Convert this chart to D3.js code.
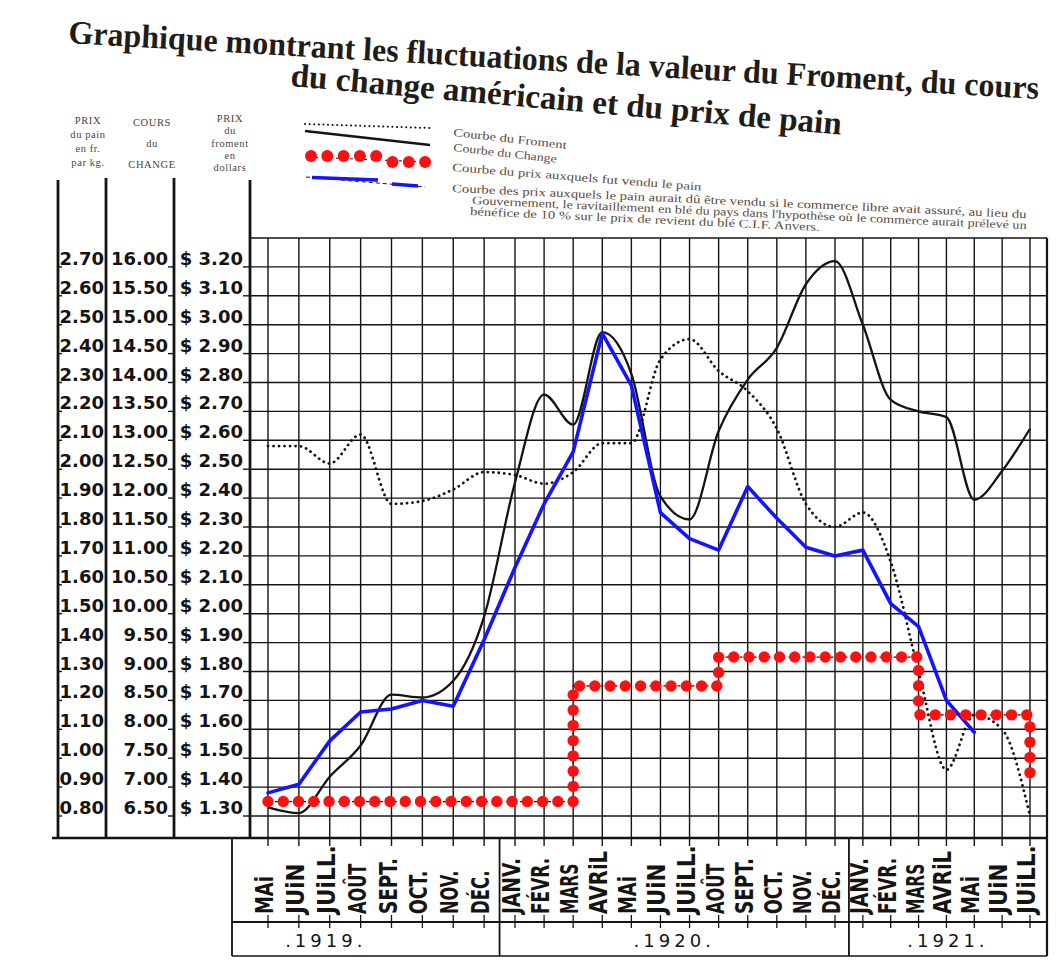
<!DOCTYPE html>
<html><head><meta charset="utf-8">
<script src="https://cdn.jsdelivr.net/npm/d3@7/dist/d3.min.js"></script>
<style>
body{margin:0;background:#fff;}
svg{display:block;background:#fff;}
</style></head><body>
<svg id="chart" width="1061" height="969"></svg>
<script>
// ---------- DATA ----------
const titleLines = ["Graphique montrant les fluctuations de la valeur du Froment, du cours",
                    "du change américain et du prix de pain"];
const legendLabels = ["Courbe du Froment",
  "Courbe du Change",
  "Courbe du prix auxquels fut vendu le pain",
  "Courbe des prix auxquels le pain aurait dû être vendu si le commerce libre avait assuré, au lieu du",
  "Gouvernement, le ravitaillement en blé du pays dans l'hypothèse où le commerce aurait prélevé un",
  "bénéfice de 10 % sur le prix de revient du blé C.I.F. Anvers."];
const colHeaders = [["PRIX","du pain","en fr.","par kg."],["COURS","du","CHANGE"],["PRIX","du","froment","en","dollars"]];
const months = ["MAi","JUiN","JUiLL.","AOÛT","SEPT.","OCT.","NOV.","DÉC.",
  "JANV.","FÉVR.","MARS","AVRiL","MAi","JUiN","JUiLL.","AOÛT","SEPT.","OCT.","NOV.","DÉC.",
  "JANV.","FÉVR.","MARS","AVRiL","MAi","JUiN","JUiLL."];
const years = [".1919.", ".1920.", ".1921."];

// Prix du froment en dollars (courbe pointillée), mai 1919 -> juillet 1921
const froment = [2.58,2.58,2.52,2.62,2.38,2.39,2.43,2.49,
                 2.48,2.45,2.49,2.59,2.59,2.88,2.95,2.84,2.77,2.64,2.38,2.30,
                 2.35,2.18,1.80,1.46,1.65,1.60,1.30];
// Cours du change (courbe pleine noire)
const change = [6.65,6.55,7.18,7.72,8.60,8.55,8.84,9.95,
                12.27,13.79,13.27,14.87,14.15,12.03,11.63,13.16,14.05,14.60,15.70,16.10,
                15.00,13.70,13.50,13.40,11.97,12.47,13.20];
// Prix auquel fut vendu le pain (fr./kg, points rouges)
const painVendu = [0.85,0.85,0.85,0.85,0.85,0.85,0.85,0.85,
                   0.85,0.85,1.25,1.25,1.25,1.25,1.25,1.35,1.35,1.35,1.35,1.35,
                   1.35,1.35,1.15,1.15,1.15,1.15,0.95];
// Prix auquel le pain aurait dû être vendu (commerce libre, bleu)
const painLibre = [0.88,0.91,1.06,1.16,1.17,1.20,1.18,1.41,
                   1.66,1.88,2.06,2.47,2.29,1.85,1.76,1.72,1.94,1.83,1.73,1.70,
                   1.72,1.535,1.455,1.20,1.09];

const painTicks = [0.80,0.90,1.00,1.10,1.20,1.30,1.40,1.50,1.60,1.70,1.80,1.90,2.00,2.10,2.20,2.30,2.40,2.50,2.60,2.70];
const changeTicks = [6.50,7.00,7.50,8.00,8.50,9.00,9.50,10.00,10.50,11.00,11.50,12.00,12.50,13.00,13.50,14.00,14.50,15.00,15.50,16.00];
const fromentTicks = [1.30,1.40,1.50,1.60,1.70,1.80,1.90,2.00,2.10,2.20,2.30,2.40,2.50,2.60,2.70,2.80,2.90,3.00,3.10,3.20];

// ---------- LAYOUT ----------
const svg = d3.select("#chart");
const gridLeft = 250, gridRight = 1047, gridTop = 238, gridBottom = 838;
const bandLeft = 232, bandMid = 922, bandBottom = 956;
const sepX = [58, 106, 174];
// month positions follow the (slightly foreshortened) sheet of the original
const x = d3.scaleLinear().domain([0, 8, 19, 26]).range([268, 515, 835, 1030]);
const yPain = d3.scaleLinear().domain([0.80, 2.80]).range([816, gridTop]);
const yChange = d3.scaleLinear().domain([6.5, 16.5]).range([816, gridTop]);
const yFroment = d3.scaleLinear().domain([1.30, 3.30]).range([816, gridTop]);
const ink = "#161412";

// ---------- TITLE ----------
const titleLayout = [[68, 43, 3.3, 972], [290, 86, 5.05, 553]];
svg.selectAll("text.title").data(titleLines).join("text").attr("class","title")
  .attr("x", 0).attr("y", 0)
  .attr("transform", (d,i)=>`translate(${titleLayout[i][0]},${titleLayout[i][1]}) rotate(${titleLayout[i][2]}) scale(1,1.18)`)
  .attr("textLength", (d,i)=>titleLayout[i][3]).attr("lengthAdjust","spacingAndGlyphs")
  .attr("font-family","Liberation Serif, serif").attr("font-weight","bold").attr("font-size",28)
  .attr("fill","#221c18").text(d=>d);

// ---------- LEGEND ----------
const lg = svg.append("g");
lg.append("line").attr("x1",305).attr("y1",124).attr("x2",430).attr("y2",128)
  .attr("stroke",ink).attr("stroke-width",2).attr("stroke-linecap","round").attr("stroke-dasharray","0.1,4.5");
lg.append("line").attr("x1",305).attr("y1",131).attr("x2",430).attr("y2",145)
  .attr("stroke",ink).attr("stroke-width",2.4);
lg.append("line").attr("x1",308).attr("y1",157).attr("x2",428).attr("y2",162)
  .attr("stroke",ink).attr("stroke-width",1).attr("stroke-dasharray","3,4");
lg.selectAll("circle").data(d3.range(8)).join("circle")
  .attr("cx", k=>311 + k*16.3).attr("cy", k=>k<5?156:162).attr("r",6).attr("fill","#ff1010");
lg.append("line").attr("x1",306).attr("y1",177).attr("x2",425).attr("y2",187)
  .attr("stroke",ink).attr("stroke-width",1).attr("stroke-dasharray","4,3");
lg.append("line").attr("x1",312).attr("y1",177.5).attr("x2",378).attr("y2",180)
  .attr("stroke","#1414ff").attr("stroke-width",3.5);
lg.append("line").attr("x1",392).attr("y1",184).attr("x2",418).attr("y2",186)
  .attr("stroke","#1414ff").attr("stroke-width",3.5);

const legendLayout = [[453,136,6.5,114],[453,151,6.5,104],[452,171,4.5,250],[452,192,2.6,575],[472,204,2.6,555],[470,215,2.6,350]];
lg.selectAll("text").data(legendLabels).join("text")
  .attr("x",(d,i)=>legendLayout[i][0]).attr("y",(d,i)=>legendLayout[i][1])
  .attr("transform",(d,i)=>`rotate(${legendLayout[i][2]},${legendLayout[i][0]},${legendLayout[i][1]})`)
  .attr("textLength",(d,i)=>legendLayout[i][3]).attr("lengthAdjust","spacingAndGlyphs")
  .attr("font-family","Liberation Serif, serif").attr("font-size",11.5).attr("fill","#5a4a3c").text(d=>d);

// ---------- COLUMN HEADERS ----------
const headerX = [88, 152, 230];
const headerY = [[124,138,152,166],[126,147,168],[122,134,147,159,171]];
colHeaders.forEach((lines, c) => {
  svg.append("g").selectAll("text").data(lines).join("text")
    .attr("x", headerX[c]).attr("y", (d,i)=>headerY[c][i]).attr("text-anchor","middle")
    .attr("font-family","Liberation Serif, serif").attr("font-size",10.5).attr("letter-spacing",0.6)
    .attr("fill","#4a4440").text(d=>d);
});

// ---------- GRID ----------
const grid = svg.append("g").attr("stroke", ink);
grid.selectAll("line.h").data(painTicks.concat([2.80])).join("line").attr("class","h")
  .attr("x1", gridLeft).attr("x2", gridRight).attr("y1", d=>yPain(d)).attr("y2", d=>yPain(d))
  .attr("stroke-width", 1.4);
grid.selectAll("line.v").data(months).join("line").attr("class","v")
  .attr("x1",(d,i)=>x(i)).attr("x2",(d,i)=>x(i)).attr("y1", gridTop).attr("y2", gridBottom + 8)
  .attr("stroke-width", 1.4);
grid.selectAll("line.vt").data(months).join("line").attr("class","vt")
  .attr("x1",(d,i)=>x(i)).attr("x2",(d,i)=>x(i)).attr("y1", bandMid - 7).attr("y2", bandMid + 6)
  .attr("stroke-width", 1.3);
[[gridLeft,180,gridLeft,gridBottom,2.8],[sepX[0],180,sepX[0],gridBottom,2.8],[sepX[1],178,sepX[1],gridBottom,2.8],
 [sepX[2],178,sepX[2],gridBottom,2.8],[gridRight,gridTop,gridRight,bandBottom,2.2],
 [52,gridBottom,gridRight,gridBottom,2.4],[bandLeft,bandMid,gridRight,bandMid,2.2],
 [bandLeft,bandBottom,gridRight,bandBottom,1.6],[bandLeft,gridBottom,bandLeft,bandBottom,1.8]]
 .forEach(l => grid.append("line").attr("x1",l[0]).attr("y1",l[1]).attr("x2",l[2]).attr("y2",l[3]).attr("stroke-width",l[4]));
const yearSep = [ (x(7)+x(8))/2, (x(19)+x(20))/2 ];
yearSep.forEach(s => grid.append("line").attr("x1",s).attr("x2",s).attr("y1",gridBottom).attr("y2",bandBottom).attr("stroke-width",1.8));

// ---------- AXIS LABELS ----------
const axisFont = "DejaVu Sans, sans-serif";
const labG = svg.append("g").attr("font-family", axisFont).attr("font-weight","bold").attr("font-size",18).attr("fill",ink);
labG.selectAll("text.p").data(painTicks).join("text").attr("class","p")
  .attr("x", 104).attr("y", d=>yPain(d)-2).attr("text-anchor","end").text(d=>d3.format(".2f")(d));
labG.selectAll("text.c").data(changeTicks).join("text").attr("class","c")
  .attr("x", 168).attr("y", d=>yChange(d)-2).attr("text-anchor","end").text(d=>d3.format(".2f")(d));
labG.selectAll("text.f").data(fromentTicks).join("text").attr("class","f")
  .attr("x", 243).attr("y", d=>yFroment(d)-2).attr("text-anchor","end").text(d=>"$ " + d3.format(".2f")(d));
const tickG = svg.append("g").attr("stroke", ink).attr("stroke-width",1.4);
tickG.selectAll("line.tp").data(painTicks).join("line").attr("x1",sepX[0]).attr("x2",sepX[0]+4).attr("y1",d=>yPain(d)).attr("y2",d=>yPain(d));
tickG.selectAll("line.tc").data(changeTicks).join("line").attr("x1",168).attr("x2",sepX[2]).attr("y1",d=>yChange(d)).attr("y2",d=>yChange(d));
tickG.selectAll("line.tf").data(fromentTicks).join("line").attr("x1",243).attr("x2",gridLeft).attr("y1",d=>yFroment(d)).attr("y2",d=>yFroment(d));

// ---------- MONTH / YEAR BAND ----------
const mG = svg.append("g").attr("font-family", axisFont).attr("font-weight","bold").attr("font-size",24).attr("fill",ink);
mG.selectAll("text").data(months).join("text")
  .attr("transform",(d,i)=>`translate(${x(i)+5},914) rotate(-90)`)
  .attr("textLength", d => 12.6 * (d.replace(/\./g,"").length + (d.includes(".")?0.45:0)))
  .attr("lengthAdjust","spacingAndGlyphs").text(d=>d);
const yearEdges = [bandLeft, yearSep[0], yearSep[1], gridRight];
svg.append("g").selectAll("text").data(years).join("text")
  .attr("x",(d,i)=>(yearEdges[i]+yearEdges[i+1])/2 - (i===0?40:0)).attr("y",947).attr("text-anchor","middle")
  .attr("font-family",axisFont).attr("font-size",18).attr("letter-spacing",4).attr("fill",ink).text(d=>d);

// ---------- CURVES ----------
const lineFroment = d3.line().x((d,i)=>x(i)).y(d=>yFroment(d)).curve(d3.curveMonotoneX);
svg.append("path").attr("d", lineFroment(froment)).attr("fill","none").attr("stroke",ink)
  .attr("stroke-width",2.8).attr("stroke-linecap","round").attr("stroke-dasharray","0.1,5.4");

const lineChange = d3.line().x((d,i)=>x(i)).y(d=>yChange(d)).curve(d3.curveMonotoneX);
svg.append("path").attr("d", lineChange(change)).attr("fill","none").attr("stroke",ink)
  .attr("stroke-width",2.3).attr("stroke-linejoin","round");

const lineLibre = d3.line().x((d,i)=>x(i)).y(d=>yPain(d)).curve(d3.curveLinear);
svg.append("path").attr("d", lineLibre(painLibre)).attr("fill","none").attr("stroke","#1414ff")
  .attr("stroke-width",3.6).attr("stroke-linejoin","round").attr("stroke-linecap","round");

const lineVendu = d3.line().x((d,i)=>x(i)).y(d=>yPain(d)).curve(d3.curveStepAfter);
const redPath = svg.append("path").attr("d", lineVendu(painVendu)).attr("fill","none")
  .attr("stroke",ink).attr("stroke-width",1.2).attr("stroke-dasharray","3,4");
const node = redPath.node();
const total = node.getTotalLength();
const nDots = Math.round(total / 15.3);
const dots = d3.range(nDots + 1).map(k => node.getPointAtLength(k * total / nDots));
svg.append("g").selectAll("circle").data(dots).join("circle")
  .attr("cx", p=>p.x).attr("cy", p=>p.y).attr("r", 5.7).attr("fill", "#ff1010");
</script>
</body></html>
